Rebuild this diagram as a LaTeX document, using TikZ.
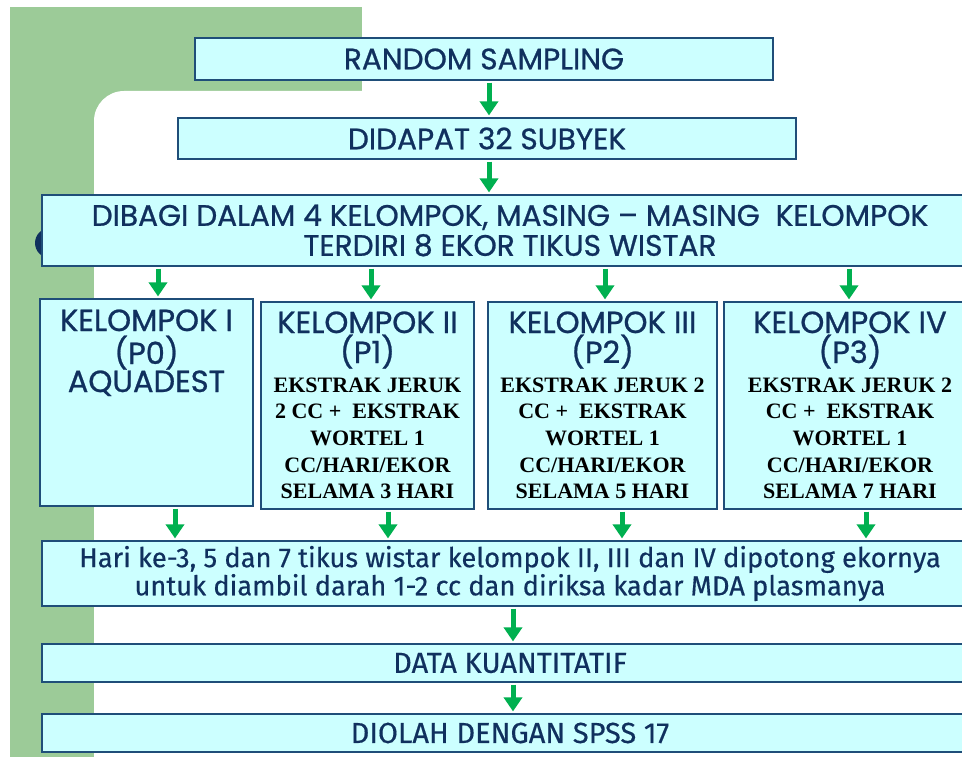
\documentclass[tikz,border=0pt]{standalone}
\usepackage{fontspec}
\setmainfont{Liberation Serif}
\newfontfamily\titlefont[FakeBold=0.8]{Poppins}
\newfontfamily\condfont[FakeBold=0.4]{Fira Sans}
\usetikzlibrary{arrows.meta}
\definecolor{bggreen}{HTML}{9CCB98}
\definecolor{boxfill}{HTML}{CCFFFF}
\definecolor{boxline}{HTML}{1F4E79}
\definecolor{navy}{HTML}{10305E}
\definecolor{arrowgreen}{HTML}{00B050}
\begin{document}
\begin{tikzpicture}[x=1pt,y=-1pt,
  box/.style={draw=boxline, line width=1.2pt, fill=boxfill, inner sep=0pt,
              text=navy, align=center},
  flow/.style={draw=arrowgreen, line width=5pt,
               -{Triangle[width=18pt,length=14pt]}, shorten <=2pt, shorten >=2pt},
  headline/.style={font=\titlefont\fontsize{29.6}{30}\selectfont},
  condline/.style={font=\condfont\fontsize{27.3}{27}\selectfont},
  capline/.style={font=\condfont\fontsize{29}{29}\selectfont}]
\useasboundingbox (0,0) rectangle (962,757);
% slide background: green frame with a white rounded panel
\fill[white] (0,0) rectangle (962,757);
\fill[bggreen] (10,7) rectangle (362,757);
\fill[white, rounded corners=30pt] (94,91) rectangle (1000,800);
\fill[navy] (50,243) circle (15);

% flow boxes
\node[box, headline, minimum width=578, minimum height=42] (rs) at (484,59) {RANDOM SAMPLING};
\node[box, headline, minimum width=618, minimum height=41] (ds) at (487,138.5) {DIDAPAT 32 SUBYEK};
\node[box, headline, minimum width=936, minimum height=71] (bagi) at (510,230.5)
  {DIBAGI DALAM 4 KELOMPOK, MASING – MASING\ \ KELOMPOK\\TERDIRI 8 EKOR TIKUS WISTAR};

\node[box, minimum width=213, minimum height=207] (k1) at (146.5,402.5)
  {\parbox[c][207pt][t]{213pt}{\centering\titlefont\fontsize{30.5}{33}\selectfont
   \rule{0pt}{32pt}KELOMPOK I\\(P0)\\[-5pt]AQUADEST}};
\node[box, minimum width=213, minimum height=207] (k2) at (367.5,405.5)
  {\parbox[c][207pt][t]{213pt}{\centering{\titlefont\fontsize{30.5}{30}\selectfont
   \rule{0pt}{31pt}KELOMPOK II\\(P1)\par}
   \color{black}\bfseries\fontsize{22}{26.7}\selectfont
   \rule{0pt}{22.5pt}EKSTRAK JERUK\\2 CC +\ \ EKSTRAK\\WORTEL 1\\CC/HARI/EKOR\\SELAMA 3 HARI}};
\node[box, minimum width=229, minimum height=207] (k3) at (602.5,405.5)
  {\parbox[c][207pt][t]{229pt}{\centering{\titlefont\fontsize{30.5}{30}\selectfont
   \rule{0pt}{31pt}KELOMPOK III\\(P2)\par}
   \color{black}\bfseries\fontsize{22}{26.7}\selectfont
   \rule{0pt}{22.5pt}EKSTRAK JERUK 2\\CC +\ \ EKSTRAK\\WORTEL 1\\CC/HARI/EKOR\\SELAMA 5 HARI}};
\node[box, minimum width=252, minimum height=207] (k4) at (850,405.5)
  {\parbox[c][207pt][t]{252pt}{\centering{\titlefont\fontsize{30.5}{30}\selectfont
   \rule{0pt}{31pt}KELOMPOK IV\\(P3)\par}
   \color{black}\bfseries\fontsize{22}{26.7}\selectfont
   \rule{0pt}{22.5pt}EKSTRAK JERUK 2\\CC +\ \ EKSTRAK\\WORTEL 1\\CC/HARI/EKOR\\SELAMA 7 HARI}};

\node[box, condline, minimum width=936, minimum height=65] (hari) at (510,573.5)
  {Hari ke-3, 5 dan 7 tikus wistar kelompok II, III dan IV dipotong ekornya\\
   untuk diambil darah 1-2 cc dan diriksa kadar MDA plasmanya};
\node[box, capline, minimum width=936, minimum height=38] (data) at (510,663) {DATA KUANTITATIF};
\node[box, capline, minimum width=936, minimum height=38] (olah) at (510,733) {DIOLAH DENGAN SPSS 17};

% connectors
\draw[flow] (rs.south -| 489,0) -- (ds.north -| 489,0);
\draw[flow] (ds.south -| 489,0) -- (bagi.north -| 489,0);
\draw[flow] (bagi.south -| 158,0) -- (k1.north -| 158,0);
\draw[flow] (bagi.south -| 371,0) -- (k2.north -| 371,0);
\draw[flow] (bagi.south -| 605,0) -- (k3.north -| 605,0);
\draw[flow] (bagi.south -| 849,0) -- (k4.north -| 849,0);
\draw[flow] (k1.south -| 175,0) -- (hari.north -| 175,0);
\draw[flow] (k2.south -| 388,0) -- (hari.north -| 388,0);
\draw[flow] (k3.south -| 622,0) -- (hari.north -| 622,0);
\draw[flow] (k4.south -| 866,0) -- (hari.north -| 866,0);
\draw[flow] (hari.south -| 513,0) -- (data.north -| 513,0);
\draw[flow] (data.south -| 513,0) -- (olah.north -| 513,0);
\end{tikzpicture}
\end{document}
